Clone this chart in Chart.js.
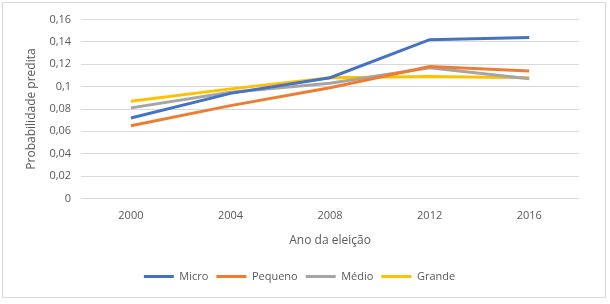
<!DOCTYPE html>
<html>
<head>
<meta charset="utf-8">
<script src="https://cdn.jsdelivr.net/npm/chart.js@4"></script>
<style>
  html, body { margin: 0; padding: 0; background: #fff; }
  #wrap { position: absolute; left: 2px; top: 2px; width: 604px; height: 296px; border: 1px solid #d9d9d9; box-sizing: border-box; }
</style>
</head>
<body>
<div id="wrap"><canvas id="chart" width="602" height="294"></canvas></div>
<script>
// Chart data
const years = ["2000", "2004", "2008", "2012", "2016"];
const micro = [0.072, 0.094, 0.108, 0.142, 0.144];
const pequeno = [0.065, 0.083, 0.099, 0.118, 0.114];
const medio = [0.081, 0.095, 0.103, 0.117, 0.107];
const grande = [0.087, 0.098, 0.108, 0.109, 0.108];
const yTicks = [0, 0.02, 0.04, 0.06, 0.08, 0.1, 0.12, 0.14, 0.16];

const textColor = "#595959";
const fontFamily = "'Open Sans', 'Liberation Sans', sans-serif";

function line(label, data, color) {
    return {
        label: label,
        data: data,
        borderColor: color,
        backgroundColor: color,
        borderWidth: 3,
        pointRadius: 0,
        tension: 0,
        fill: false
    };
}

new Chart(document.getElementById("chart"), {
    type: "line",
    data: {
        labels: years,
        datasets: [
            line("Micro", micro, "#4472C4"),
            line("Pequeno", pequeno, "#ED7D31"),
            line("Médio", medio, "#A5A5A5"),
            line("Grande", grande, "#FFC000")
        ]
    },
    options: {
        responsive: false,
        animation: false,
        layout: { padding: { left: 17, right: 26, top: 11, bottom: 5 } },
        plugins: {
            legend: {
                position: "bottom",
                labels: {
                    usePointStyle: true,
                    pointStyle: "line",
                    pointStyleWidth: 30,
                    color: textColor,
                    font: { family: fontFamily, size: 11 },
                    padding: 8
                }
            },
            tooltip: { enabled: false }
        },
        scales: {
            x: {
                offset: true,
                grid: { display: false, drawTicks: false },
                border: { display: false },
                ticks: { color: textColor, font: { family: fontFamily, size: 11 }, padding: 11 },
                title: { display: true, text: "Ano da eleição", color: textColor, font: { family: fontFamily, size: 12 }, padding: { top: 0, bottom: 15 } }
            },
            y: {
                min: 0,
                max: 0.16,
                afterBuildTicks: (axis) => { axis.ticks = yTicks.map(v => ({ value: v })); },
                grid: { color: "#d9d9d9", drawTicks: false },
                border: { display: false },
                ticks: {
                    color: textColor,
                    font: { family: fontFamily, size: 11 },
                    padding: 10,
                    callback: (v) => String(Math.round(v * 100) / 100).replace(".", ",")
                },
                title: { display: true, text: "Probabilidade predita", color: textColor, font: { family: fontFamily, size: 12 }, padding: { bottom: 1 } }
            }
        }
    }
});
</script>
</body>
</html>
